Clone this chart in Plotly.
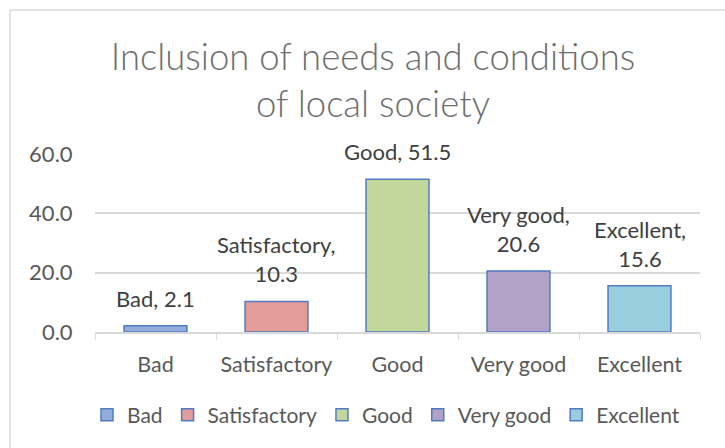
import plotly.graph_objects as go

categories = ["Bad", "Satisfactory", "Good", "Very good", "Excellent"]
values = [2.1, 10.3, 51.5, 20.6, 15.6]
labels = ["Bad, 2.1", "Satisfactory,<br>10.3", "Good, 51.5", "Very good,<br>20.6", "Excellent,<br>15.6"]
colors = ["#94ACDC", "#E39C9A", "#C3D69B", "#B2A2C8", "#9ACEDE"]
border = "#4F7CC4"

FONT = "Lato, Carlito, sans-serif"

fig = go.Figure()
for c, v, col in zip(categories, values, colors):
    fig.add_trace(go.Bar(
        x=[c], y=[v], name=c,
        marker=dict(color=col, line=dict(color=border, width=1.5)),
        width=0.52,
    ))

annotations = [
    dict(x=c, y=v, xref="x", yref="y", text=t, showarrow=False,
         yanchor="bottom", yshift=12,
         font=dict(family=FONT, size=22, color="#404040"))
    for c, v, t in zip(categories, values, labels)
]

L, R, T, B = 95, 700, 154, 332
W, H = 725, 448
pw, ph = R - L, B - T

def px(x):
    return (x - L) / pw

def py(y):
    return (B - y) / ph

fig.update_layout(
    width=W, height=H,
    margin=dict(l=L, r=W - R, t=T, b=H - B, autoexpand=False),
    barmode="overlay",
    paper_bgcolor="white", plot_bgcolor="white",
    font=dict(family=FONT, size=21, color="#595959"),
    title=dict(
        text="Inclusion of needs and conditions<br>of local society",
        x=373 / W, xanchor="center", xref="container",
        y=1 - 70 / H, yanchor="middle", yref="container",
        font=dict(family=FONT, size=36.5, color="#6E6E6E", weight=300),
    ),
    showlegend=True,
    legend=dict(orientation="h", x=px(386), xanchor="center", y=py(415), yanchor="middle",
                font=dict(family=FONT, size=21, color="#595959"), itemwidth=30,
                tracegroupgap=0),
    annotations=annotations,
    xaxis=dict(
        showline=True, linecolor="#D9D9D9", linewidth=1.5,
        ticks="outside", tickson="boundaries", ticklen=6, tickcolor="#D9D9D9",
        ticklabelstandoff=12,
        tickfont=dict(size=21.5, color="#595959"), showgrid=False,
    ),
    yaxis=dict(
        range=[0, 60], tickvals=[0, 20, 40, 60], tickformat=".1f",
        showgrid=True, gridcolor="#D9D9D9", gridwidth=1.5,
        zeroline=False, showline=False,
        ticks="outside", ticklen=17, tickcolor="rgba(0,0,0,0)",
        tickfont=dict(size=22, color="#595959"),
    ),
    shapes=[
        dict(type="line", xref="paper", yref="paper", x0=px(10), x1=px(730), y0=py(10), y1=py(10),
             line=dict(color="#D9D9D9", width=1.5)),
        dict(type="line", xref="paper", yref="paper", x0=px(10), x1=px(10), y0=py(10), y1=py(455),
             line=dict(color="#D9D9D9", width=1.5)),
    ],
)

fig.write_html("out.html", config={"displayModeBar": False},
               post_script="document.body.style.margin='0';document.body.style.overflow='hidden';")
